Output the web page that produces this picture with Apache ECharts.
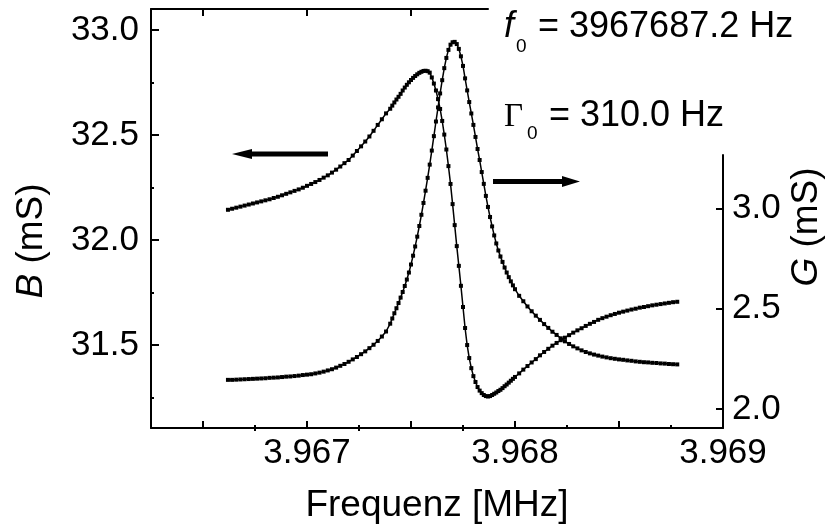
<!DOCTYPE html>
<html>
<head>
<meta charset="utf-8">
<script src="https://cdn.jsdelivr.net/npm/echarts@6.0.0/dist/echarts.min.js"></script>
<style>
  html, body { margin: 0; padding: 0; background: #fff; }
  #resonanz { width: 825px; height: 524px; }
</style>
</head>
<body>
<div id="resonanz"></div>
<script>
// Messfrequenzen (Hz), grob in den Flanken, fein um die Resonanz
var freqHz = [
  3966620, 3966640, 3966660, 3966680, 3966700, 3966720, 3966740, 3966760, 3966780, 3966800,
  3966820, 3966840, 3966860, 3966880, 3966900, 3966920, 3966940, 3966960, 3966980, 3967000,
  3967020, 3967040, 3967060, 3967080, 3967100, 3967120, 3967140, 3967160, 3967180, 3967200,
  3967220, 3967240, 3967260, 3967280, 3967300, 3967320, 3967340, 3967360, 3967380,
  3967400, 3967410, 3967420, 3967430, 3967440, 3967450, 3967460, 3967470, 3967480, 3967490,
  3967500, 3967510, 3967520, 3967530, 3967540, 3967550, 3967560, 3967570, 3967580, 3967590,
  3967600, 3967610, 3967620, 3967630, 3967640, 3967650, 3967660, 3967670, 3967680, 3967690,
  3967700, 3967710, 3967720, 3967730, 3967740, 3967750, 3967760, 3967770, 3967780, 3967790,
  3967800, 3967810, 3967820, 3967830, 3967840, 3967850, 3967860, 3967870, 3967880, 3967890,
  3967900, 3967910, 3967920, 3967930, 3967940, 3967950, 3967960, 3967970, 3967980, 3967990,
  3968000,
  3968020, 3968040, 3968060, 3968080, 3968100, 3968120, 3968140, 3968160, 3968180, 3968200,
  3968220, 3968240, 3968260, 3968280, 3968300, 3968320, 3968340, 3968360, 3968380, 3968400,
  3968420, 3968440, 3968460, 3968480, 3968500, 3968520, 3968540, 3968560, 3968580, 3968600,
  3968620, 3968640, 3968660, 3968680, 3968700, 3968720, 3968740, 3968760, 3968780
];

// Suszeptanz B (mS), linke Achse
var bValues = [
  32.144, 32.149, 32.154, 32.159, 32.164, 32.169, 32.174, 32.179, 32.184, 32.189,
  32.194, 32.200, 32.206, 32.213, 32.220, 32.227, 32.234, 32.241, 32.249, 32.258,
  32.267, 32.276, 32.286, 32.297, 32.308, 32.321, 32.335, 32.350, 32.366, 32.381,
  32.402, 32.424, 32.446, 32.469, 32.493, 32.520, 32.548, 32.575, 32.603,
  32.625, 32.640, 32.655, 32.669, 32.682, 32.696, 32.712, 32.726, 32.739, 32.751,
  32.762, 32.772, 32.781, 32.789, 32.796, 32.801, 32.805, 32.806, 32.804, 32.797,
  32.774, 32.745, 32.712, 32.671, 32.624, 32.567, 32.502, 32.431, 32.352, 32.267,
  32.171, 32.071, 31.971, 31.877, 31.782, 31.681, 31.581, 31.500, 31.438, 31.390,
  31.352, 31.324, 31.300, 31.283, 31.271, 31.262, 31.257, 31.255, 31.257, 31.262,
  31.268, 31.274, 31.281, 31.287, 31.295, 31.304, 31.312, 31.321, 31.330, 31.339,
  31.348,
  31.365, 31.383, 31.400, 31.417, 31.433, 31.451, 31.467, 31.482, 31.497, 31.510,
  31.523, 31.535, 31.547, 31.559, 31.570, 31.580, 31.591, 31.601, 31.610, 31.620,
  31.628, 31.635, 31.642, 31.648, 31.654, 31.659, 31.664, 31.669, 31.673, 31.678,
  31.681, 31.685, 31.689, 31.692, 31.695, 31.698, 31.701, 31.704, 31.706
];

// Konduktanz G (mS), rechte Achse
var gValues = [
  2.145, 2.145, 2.146, 2.147, 2.148, 2.149, 2.150, 2.151, 2.152, 2.153,
  2.155, 2.156, 2.157, 2.159, 2.161, 2.162, 2.164, 2.166, 2.169, 2.171,
  2.173, 2.177, 2.181, 2.186, 2.192, 2.198, 2.206, 2.215, 2.224, 2.235,
  2.247, 2.259, 2.273, 2.287, 2.303, 2.320, 2.339, 2.361, 2.386,
  2.425, 2.451, 2.477, 2.502, 2.528, 2.555, 2.583, 2.613, 2.645, 2.680,
  2.720, 2.764, 2.810, 2.859, 2.912, 2.968, 3.027, 3.088, 3.152, 3.218,
  3.288, 3.360, 3.433, 3.503, 3.573, 3.639, 3.699, 3.750, 3.790, 3.816,
  3.828, 3.830, 3.819, 3.795, 3.758, 3.710, 3.648, 3.588, 3.530, 3.473,
  3.416, 3.356, 3.296, 3.241, 3.181, 3.122, 3.062, 3.007, 2.957, 2.910,
  2.865, 2.825, 2.790, 2.760, 2.733, 2.705, 2.680, 2.657, 2.636, 2.616,
  2.597,
  2.564, 2.537, 2.511, 2.487, 2.465, 2.444, 2.423, 2.404, 2.385, 2.369,
  2.352, 2.337, 2.324, 2.312, 2.302, 2.292, 2.284, 2.277, 2.271, 2.266,
  2.261, 2.257, 2.253, 2.250, 2.247, 2.245, 2.242, 2.240, 2.237, 2.235,
  2.233, 2.232, 2.230, 2.229, 2.227, 2.226, 2.224, 2.223, 2.222
];

// Achsenbeschriftung / Ticks
var xLabels = [3.967, 3.968, 3.969];
var xMajorTicks = [3.9665, 3.967, 3.9675, 3.968, 3.9685];
var xMinorTicks = [3.96675, 3.96725, 3.96775, 3.96825, 3.96875];
var xTopMajorTicks = [3.9665, 3.967, 3.9675];
var xTopMinorTicks = [3.96675, 3.96725, 3.96775];
var bTicks = [31.5, 32.0, 32.5, 33.0];
var bMinorTicks = [31.25, 31.75, 32.25, 32.75];
var gTicks = [2.0, 2.5, 3.0];

var schrift = 'Liberation Sans';
var schwarz = '#000';
var achse = { color: schwarz, width: 2 };

var xMin = 3.96625, xMax = 3.969, xTopMax = 3.96787;

var bData = freqHz.map(function (f, i) { return [f / 1e6, bValues[i]]; });
var gData = freqHz.map(function (f, i) { return [f / 1e6, gValues[i]]; });

var option = {
  backgroundColor: '#fff',
  animation: false,
  grid: [
    { left: 151, right: 102, top: 9, bottom: 96, outerBoundsMode: 'none' },
    { left: 151, right: 102, top: 155, bottom: 96, outerBoundsMode: 'none' },
    { left: 151, top: 9, width: 337, height: 419, outerBoundsMode: 'none' }
  ],
  xAxis: [
    {
      type: 'value', gridIndex: 0, position: 'bottom', min: xMin, max: xMax,
      axisLine: { show: true, onZero: false, lineStyle: achse },
      axisTick: { show: true, inside: true, length: 7, customValues: xMajorTicks, lineStyle: achse },
      axisLabel: {
        customValues: xLabels, color: schwarz, fontSize: 35, fontFamily: schrift, margin: 8,
        formatter: function (v) { return v.toFixed(3); }
      },
      splitLine: { show: false },
      name: 'Frequenz [MHz]', nameLocation: 'middle', nameGap: 59,
      nameTextStyle: { color: schwarz, fontSize: 37, fontFamily: schrift }
    },
    { type: 'value', gridIndex: 1, min: xMin, max: xMax, show: false },
    {
      type: 'value', gridIndex: 2, position: 'top', min: xMin, max: xTopMax,
      axisLine: { show: true, onZero: false, lineStyle: achse },
      axisTick: { show: true, inside: true, length: 7, customValues: xTopMajorTicks, lineStyle: achse },
      axisLabel: { show: false }, splitLine: { show: false }
    },
    {
      type: 'value', gridIndex: 0, position: 'bottom', min: xMin, max: xMax,
      axisLine: { show: false },
      axisTick: { show: true, inside: true, length: 3, customValues: xMinorTicks, lineStyle: achse },
      axisLabel: { show: false }, splitLine: { show: false }
    },
    {
      type: 'value', gridIndex: 2, position: 'top', min: xMin, max: xTopMax,
      axisLine: { show: false },
      axisTick: { show: true, inside: true, length: 3, customValues: xTopMinorTicks, lineStyle: achse },
      axisLabel: { show: false }, splitLine: { show: false }
    }
  ],
  yAxis: [
    {
      type: 'value', gridIndex: 0, position: 'left', min: 31.105, max: 33.1,
      axisLine: { show: true, onZero: false, lineStyle: achse },
      axisTick: { show: true, inside: true, length: 8, customValues: bTicks, lineStyle: achse },
      axisLabel: {
        customValues: bTicks, color: schwarz, fontSize: 35, fontFamily: schrift, margin: 12,
        formatter: function (v) { return v.toFixed(1); }
      },
      splitLine: { show: false }
    },
    {
      type: 'value', gridIndex: 1, position: 'right', min: 1.905, max: 3.266,
      axisLine: { show: true, onZero: false, lineStyle: achse },
      axisTick: { show: true, inside: true, length: 7, customValues: gTicks, lineStyle: achse },
      axisLabel: {
        customValues: gTicks, color: schwarz, fontSize: 35, fontFamily: schrift, margin: 9,
        formatter: function (v) { return v.toFixed(1); }
      },
      splitLine: { show: false }
    },
    {
      type: 'value', gridIndex: 0, position: 'left', min: 31.105, max: 33.1,
      axisLine: { show: false },
      axisTick: { show: true, inside: true, length: 3, customValues: bMinorTicks, lineStyle: achse },
      axisLabel: { show: false }, splitLine: { show: false }
    },
    { type: 'value', gridIndex: 2, min: 0, max: 1, show: false }
  ],
  series: [
    {
      name: 'B', type: 'line', xAxisIndex: 0, yAxisIndex: 0, data: bData,
      symbol: 'rect', symbolSize: 4, showSymbol: true, showAllSymbol: true,
      lineStyle: { color: schwarz, width: 1.5 }, itemStyle: { color: schwarz },
      silent: true
    },
    {
      name: 'G', type: 'line', xAxisIndex: 1, yAxisIndex: 1, data: gData, clip: false,
      symbol: 'rect', symbolSize: 4, showSymbol: true, showAllSymbol: true,
      lineStyle: { color: schwarz, width: 1.5 }, itemStyle: { color: schwarz },
      silent: true
    }
  ],
  graphic: [
    // Resonanzparameter
    { type: 'text', x: 504, y: 27, z: 10, style: { text: 'f', font: 'italic 36px "Liberation Sans"', fill: schwarz, align: 'left', verticalAlign: 'middle' } },
    { type: 'text', x: 516, y: 47, z: 10, style: { text: '0', font: '19px "Liberation Sans"', fill: schwarz, align: 'left', verticalAlign: 'middle' } },
    { type: 'text', x: 538, y: 27, z: 10, style: { text: '= 3967687.2 Hz', font: '36px "Liberation Sans"', fill: schwarz, align: 'left', verticalAlign: 'middle' } },
    { type: 'text', x: 504, y: 117, z: 10, style: { text: 'Γ', font: '33px "Liberation Serif"', fill: schwarz, align: 'left', verticalAlign: 'middle' } },
    { type: 'text', x: 527, y: 134, z: 10, style: { text: '0', font: '19px "Liberation Sans"', fill: schwarz, align: 'left', verticalAlign: 'middle' } },
    { type: 'text', x: 549, y: 116, z: 10, style: { text: '= 310.0 Hz', font: '36px "Liberation Sans"', fill: schwarz, align: 'left', verticalAlign: 'middle' } },
    // Achsentitel
    {
      type: 'text', x: 32, y: 241, rotation: Math.PI / 2, z: 10,
      style: {
        text: '{i|B} (mS)', fill: schwarz, font: '37px "Liberation Sans"', align: 'center', verticalAlign: 'middle',
        rich: { i: { fontStyle: 'italic', fontSize: 37, fontFamily: schrift, fill: schwarz } }
      }
    },
    {
      type: 'text', x: 807, y: 227, rotation: Math.PI / 2, z: 10,
      style: {
        text: '{i|G} (mS)', fill: schwarz, font: '37px "Liberation Sans"', align: 'center', verticalAlign: 'middle',
        rich: { i: { fontStyle: 'italic', fontSize: 37, fontFamily: schrift, fill: schwarz } }
      }
    },
    // Pfeile: B -> linke Achse, G -> rechte Achse
    {
      type: 'polygon', z: 10,
      shape: { points: [[232, 154], [252, 149], [252, 151.5], [328, 151.5], [328, 156.5], [252, 156.5], [252, 159]] },
      style: { fill: schwarz }
    },
    {
      type: 'polygon', z: 10,
      shape: { points: [[580, 181.5], [562, 176], [562, 179], [493, 179], [493, 184], [562, 184], [562, 187]] },
      style: { fill: schwarz }
    }
  ]
};

var resonanzChart = echarts.init(document.getElementById('resonanz'));
resonanzChart.setOption(option);
</script>
</body>
</html>
